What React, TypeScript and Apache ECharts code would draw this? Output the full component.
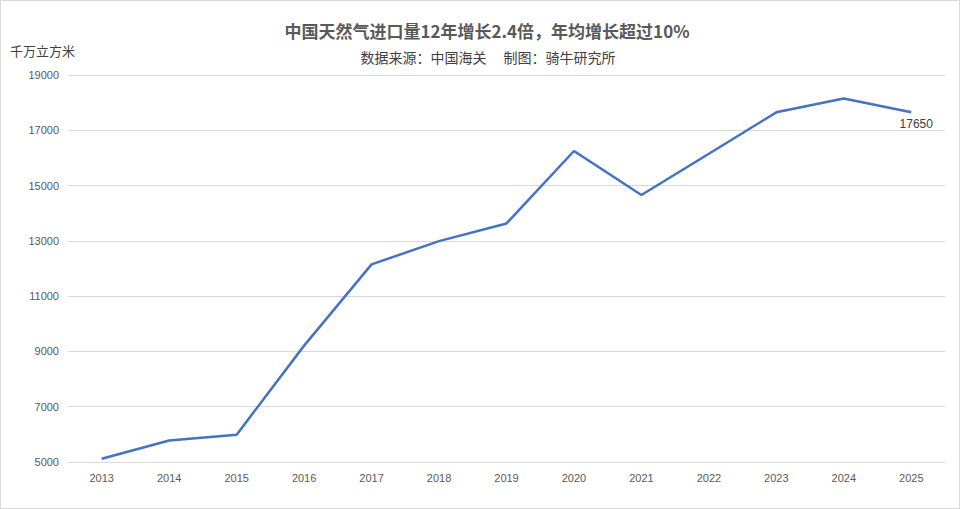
import React, { useEffect, useRef } from "react";
import * as echarts from "echarts";

const years = ["2013", "2014", "2015", "2016", "2017", "2018", "2019", "2020", "2021", "2022", "2023", "2024", "2025"];
const imports = [5120, 5780, 5990, 9210, 12150, 12990, 13630, 16250, 14660, 16150, 17650, 18150, 17650];
const titleText = "中国天然气进口量12年增长2.4倍，年均增长超过10%";
const subtitleText = "数据来源：中国海关\u3000 制图：骑牛研究所";
const unitText = "千万立方米";

const numFont = "'Liberation Sans Narrow', 'Liberation Sans', sans-serif";
const cjkFont = "'Noto Sans CJK SC', 'Noto Sans', sans-serif";

export default function App() {
  const ref = useRef<HTMLDivElement>(null);
  useEffect(() => {
    if (!ref.current) return;
    const chart = echarts.init(ref.current, undefined, { renderer: "svg" });
    const last = imports.length - 1;
    chart.setOption({
      animation: false,
      backgroundColor: "#ffffff",
      graphic: [
        {
          type: "rect",
          shape: { x: 0.5, y: 0.5, width: 959, height: 508 },
          style: { fill: "none", stroke: "#d9d9d9", lineWidth: 1 },
          silent: true,
        },
        {
          type: "text",
          x: 487,
          y: 30,
          style: {
            text: titleText,
            fontFamily: cjkFont,
            fontSize: 17,
            fontWeight: "bold",
            fill: "#595959",
            align: "center",
            verticalAlign: "middle",
          },
        },
        {
          type: "text",
          x: 488,
          y: 57,
          style: {
            text: subtitleText,
            fontFamily: cjkFont,
            fontSize: 14,
            fill: "#404040",
            align: "center",
            verticalAlign: "middle",
          },
        },
        {
          type: "text",
          x: 10,
          y: 50,
          style: {
            text: unitText,
            fontFamily: cjkFont,
            fontSize: 13,
            fill: "#404040",
            verticalAlign: "middle",
            align: "left",
          },
        },
      ],
      grid: { left: 68, right: 15, top: 75, bottom: 47, containLabel: false },
      xAxis: {
        type: "category",
        data: years,
        boundaryGap: true,
        axisLine: { lineStyle: { color: "#d9d9d9", width: 1 } },
        axisTick: { show: false },
        axisLabel: { color: "#595959", fontSize: 11, fontFamily: numFont, margin: 10 },
      },
      yAxis: {
        type: "value",
        min: 5000,
        max: 19000,
        interval: 2000,
        axisLine: { show: false },
        axisTick: { show: false },
        axisLabel: {
          color: "#595959",
          fontSize: 11,
          fontFamily: numFont,
          margin: 9,
          formatter: (v: number) => String(v),
        },
        splitLine: { lineStyle: { color: "#d9d9d9", width: 1 } },
      },
      series: [
        {
          type: "line",
          data: imports.map((v, i) =>
            i === last
              ? {
                  value: v,
                  label: {
                    show: true,
                    position: "bottom",
                    distance: 6,
                    offset: [5, 0],
                    color: "#404040",
                    fontSize: 12,
                    fontFamily: numFont,
                  },
                }
              : v
          ),
          symbol: "circle",
          symbolSize: 0,
          showSymbol: true,
          lineStyle: { color: "#4472C4", width: 2.5 },
          itemStyle: { color: "#4472C4" },
        },
      ],
    });
    return () => chart.dispose();
  }, []);
  return (
    <div
      ref={ref}
      style={{ position: "fixed", left: 0, top: 0, width: 960, height: 509, background: "#fff" }}
    />
  );
}
